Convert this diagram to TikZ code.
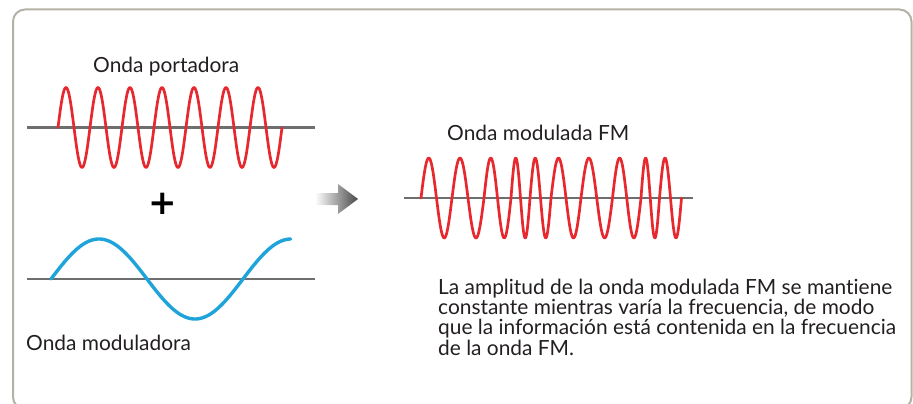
\documentclass[tikz,border=0pt]{standalone}
\usepackage{fontspec}
\setmainfont{Lato}[Ligatures=NoCommon]
\newfontfamily\plusfont{DejaVu Sans}
\usetikzlibrary{shadings}
\definecolor{frame}{HTML}{B4B1A5}
\definecolor{wavered}{HTML}{E7282E}
\definecolor{waveblue}{HTML}{1EA3DB}
\definecolor{axisgray}{HTML}{6D6E70}
\definecolor{txt}{HTML}{231F20}
\tikzset{
  axisline/.style={draw=axisgray,line width=2.4pt},
  redwave/.style={draw=wavered,line width=2.7pt,line join=round,line cap=round},
  bluewave/.style={draw=waveblue,line width=3.4pt,line cap=round},
  txtlabel/.style={anchor=base west,inner sep=0pt,text=txt,font=\fontsize{20.9}{20.4}\selectfont},
}
\begin{document}
\begin{tikzpicture}[x=1pt,y=-1pt]
\useasboundingbox (0,0) rectangle (913,404);
\begin{scope}
  \clip (0,0) rectangle (913,404);
  \draw[frame,line width=2pt,rounded corners=12pt] (13,9.5) rectangle (911.5,409);
\end{scope}

% carrier
\node[txtlabel] (portadora) at (93,72.5) {Onda portadora};
\coordinate (ca1) at (27,127.5);
\coordinate (ca2) at (315,127.5);
\draw[axisline] (ca1) -- (ca2);
\draw[redwave] plot[domain=0:7,samples=300] ({58+32*\x},{127.5-40*sin(360*\x)});

% plus
\node[inner sep=0pt,text=black,font=\plusfont\bfseries\fontsize{34}{34}\selectfont] (plus) at (163,203.5) {+};

% modulating
\coordinate (ma1) at (27,279);
\coordinate (ma2) at (315,279);
\draw[axisline] (ma1) -- (ma2);
\draw[bluewave] plot[domain=0:1.25,samples=200] ({51+192*\x},{279-40*sin(360*\x)});
\node[txtlabel] (moduladora) at (26,350) {Onda moduladora};

% arrow
\shade[left color=white,right color=black!72,draw=none]
  (315,193) -- (338,193) -- (338,184) -- (358,199) -- (338,214) -- (338,205) -- (315,205) -- cycle;

% FM wave
\node[txtlabel] (fm) at (447,140) {Onda modulada FM};
\coordinate (fa1) at (404,198);
\coordinate (fa2) at (693,198);
\draw[axisline] (fa1) -- (fa2);
\draw[redwave] (421,198)
  \foreach \s/\w in {421/31,452/32,484/27,511/19,530/21,551/30,581/31.5,612.5/28.5,641/18.5,659.5/22}
  { -- plot[domain=0:1,samples=40] ({\s+\w*\x},{198-40*sin(360*\x)}) };

% description
\node[txtlabel,align=left,anchor=north west] (desc) at (438,278.5) {La amplitud de la onda modulada FM se mantiene\\constante mientras varía la frecuencia, de modo\\que la información está contenida en la frecuencia\\de la onda FM.};
\end{tikzpicture}
\end{document}
